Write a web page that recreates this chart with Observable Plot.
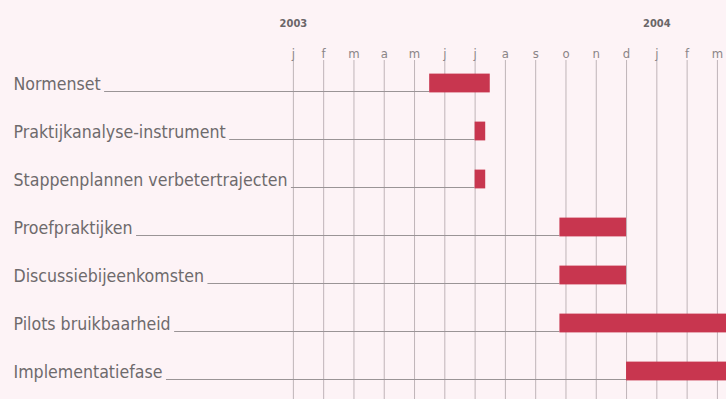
<!DOCTYPE html>
<html>
<head>
<meta charset="utf-8">
<script src="https://cdn.jsdelivr.net/npm/d3@7"></script>
<script src="https://cdn.jsdelivr.net/npm/@observablehq/plot@0.6"></script>
<style>
  html, body { margin: 0; padding: 0; background: #fdf3f6; }
  #chart svg { display: block; }
</style>
</head>
<body>
<div id="chart"></div>
<script>
const tasks = [
  "Normenset",
  "Praktijkanalyse-instrument",
  "Stappenplannen verbetertrajecten",
  "Proefpraktijken",
  "Discussiebijeenkomsten",
  "Pilots bruikbaarheid",
  "Implementatiefase"
];
// months since January 2003 (0 = start of jan 2003 column line)
const starts = [4.5, 6.0, 6.0, 8.8, 8.8, 8.8, 11.0];
const ends   = [6.5, 6.35, 6.35, 11.0, 11.0, 15.0, 15.0];

const monthLabels = ["j","f","m","a","m","j","j","a","s","o","n","d","j","f","m"];
const monthValues = [0,1,2,3,4,5,6,7,8,9,10,11,12,13,14];
const yearLabels = ["2003", "2004"];
const yearValues = [0, 12];

const xDomain = [-9.67, 14.3];

const rows = tasks.map((t, i) => ({task: t, start: starts[i], end: ends[i]}));
const months = monthLabels.map((m, i) => ({label: m, x: monthValues[i]}));
const years = yearLabels.map((y, i) => ({label: y, x: yearValues[i]}));

const bg = "#fdf3f6";
const fontFam = "'Liberation Sans Narrow', 'DejaVu Sans Condensed', 'Roboto Condensed', sans-serif";
const labelSize = 17.6;
const labelDx = 13;

// measure label widths so leader lines start right after each label
const ctx = document.createElement("canvas").getContext("2d");
ctx.font = `${labelSize}px ${fontFam}`;
const leaders = rows.map(r =>
  Plot.ruleY([r], {
    y: "task", x1: () => xDomain[0], x2: "start",
    insetLeft: labelDx + ctx.measureText(r.task).width + 4,
    dy: 8, stroke: "#9a9496", strokeWidth: 1
  })
);

const chart = Plot.plot({
  width: 726,
  height: 399,
  marginLeft: 0,
  marginRight: 0,
  marginTop: 60,
  marginBottom: 0,
  style: {background: bg, fontFamily: fontFam, overflow: "hidden"},
  x: {domain: xDomain, axis: null},
  y: {domain: tasks, range: [58, 396], padding: 0, axis: null},
  marks: [
    Plot.ruleX(months, {x: "x", stroke: "#bfb4b8", strokeWidth: 1}),
    ...leaders,
    Plot.barX(rows, {y: "task", x1: "start", x2: "end", fill: "#c8364f", insetTop: 14.6, insetBottom: 14.6, clip: true}),
    Plot.text(rows, {y: "task", text: "task", frameAnchor: "left", textAnchor: "start", dx: labelDx, dy: 1,
      fontSize: labelSize, fill: "#6e6a6c"}),
    Plot.text(months, {x: "x", text: "label", frameAnchor: "top", dy: -12, fontSize: 13, fill: "#8a8587"}),
    Plot.text(years, {x: "x", text: "label", frameAnchor: "top", dy: -41, fontSize: 11, fontWeight: "bold", fill: "#6a6668"})
  ]
});
document.getElementById("chart").appendChild(chart);
</script>
</body>
</html>
